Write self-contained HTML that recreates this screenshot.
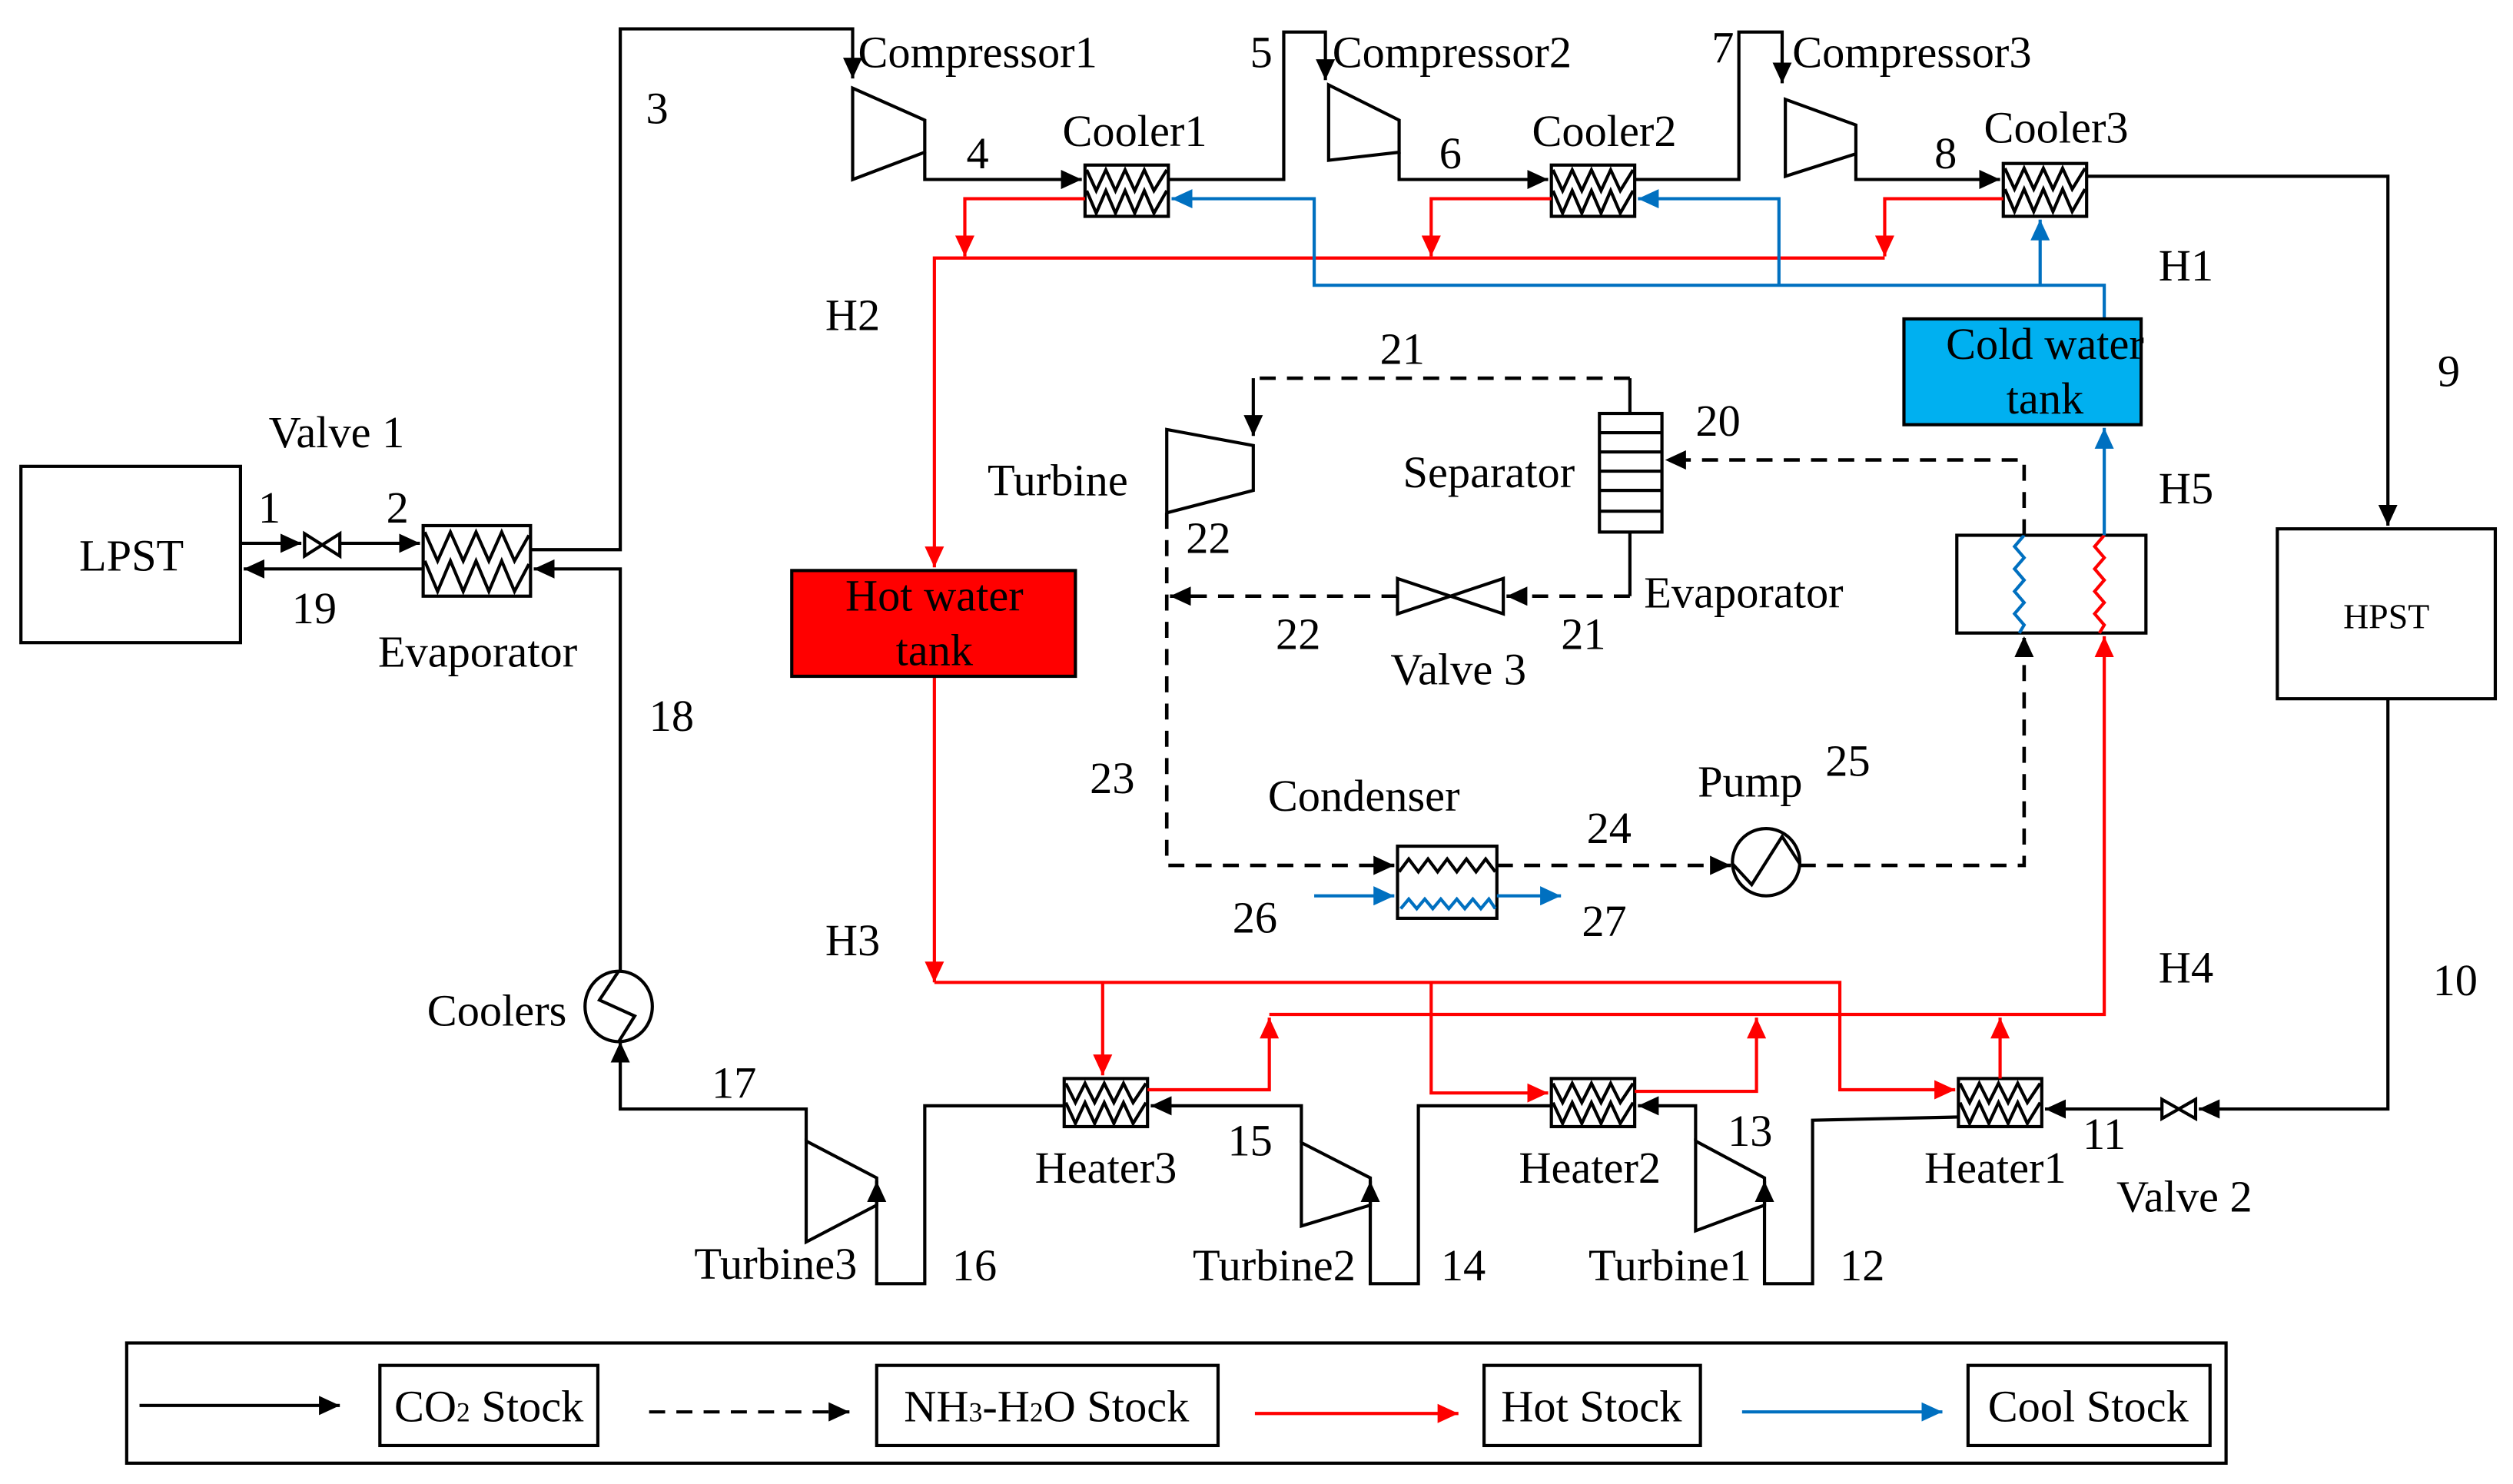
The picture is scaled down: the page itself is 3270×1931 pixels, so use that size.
<!DOCTYPE html>
<html><head><meta charset="utf-8"><style>
html,body{margin:0;padding:0;background:#fff;}
svg{display:block;}
text{font-family:"Liberation Serif",serif;font-size:28px;fill:#000;}
</style></head><body>
<svg width="3270" height="1931" viewBox="0 0 1568 926" xmlns="http://www.w3.org/2000/svg">
<defs>
<marker id="ak" markerUnits="userSpaceOnUse" markerWidth="14" markerHeight="12" refX="13" refY="6" orient="auto"><path d="M0,0 L13,6 L0,12 z" fill="#000"/></marker>
<marker id="ar" markerUnits="userSpaceOnUse" markerWidth="14" markerHeight="12" refX="13" refY="6" orient="auto"><path d="M0,0 L13,6 L0,12 z" fill="#f00"/></marker>
<marker id="ab" markerUnits="userSpaceOnUse" markerWidth="14" markerHeight="12" refX="13" refY="6" orient="auto"><path d="M0,0 L13,6 L0,12 z" fill="#0070c0"/></marker>
</defs>
<rect width="1568" height="926" fill="#fff"/>
<g fill="none" stroke-width="2">
<g stroke="#000">
<rect x="13" y="291" width="137" height="110"/>
<rect x="1421" y="330" width="136" height="106"/>
<path d="M150,339 H188" marker-end="url(#ak)"/>
<path d="M190,333 L212,347 L212,333 L190,347 Z"/>
<path d="M212,339 H262" marker-end="url(#ak)"/>
<path d="M264,355 H152" marker-end="url(#ak)"/>
<rect x="264" y="328" width="67" height="44"/>
<polyline points="265,332 273,350 281,332 289,350 297,332 305,350 313,332 321,350 330,334"/>
<polyline points="265,350 273,369 281,350 289,369 297,350 305,369 313,350 321,369 330,352"/>
<path d="M331,343 H387 V18 H532 V49" marker-end="url(#ak)"/>
<path d="M532,55 L577,75 L577,95 L532,112 Z"/>
<path d="M577,95 V112 H675" marker-end="url(#ak)"/>
<rect x="677" y="103" width="52" height="32"/>
<polyline points="678,106 684,119 690,106 696,119 702,106 708,119 714,106 720,119 728,106"/>
<polyline points="678,119 684,133 690,119 696,133 702,119 708,133 714,119 720,133 728,119"/>
<path d="M729,112 H801 V20 H827 V50" marker-end="url(#ak)"/>
<path d="M829,53 L873,75 L873,95 L829,100 Z"/>
<path d="M873,95 V112 H966" marker-end="url(#ak)"/>
<rect x="968" y="103" width="52" height="32"/>
<polyline points="969,106 975,119 981,106 987,119 993,106 999,119 1005,106 1011,119 1019,106"/>
<polyline points="969,119 975,133 981,119 987,133 993,119 999,133 1005,119 1011,133 1019,119"/>
<path d="M1020,112 H1085 V20 H1112 V52" marker-end="url(#ak)"/>
<path d="M1114,62 L1158,78 L1158,96 L1114,110 Z"/>
<path d="M1158,96 V112 H1248" marker-end="url(#ak)"/>
<rect x="1250" y="102" width="52" height="33"/>
<polyline points="1251,105 1257,118 1263,105 1269,118 1275,105 1281,118 1287,105 1293,118 1301,105"/>
<polyline points="1251,118 1257,132 1263,118 1269,132 1275,118 1281,132 1287,118 1293,132 1301,118"/>
<path d="M1302,110 H1490 V328" marker-end="url(#ak)"/>
<path d="M1490,436 V692 H1372" marker-end="url(#ak)"/>
<path d="M1349,686 L1370,698 L1370,686 L1349,698 Z"/>
<path d="M1349,692 H1276" marker-end="url(#ak)"/>
<rect x="1222" y="673" width="52" height="30"/>
<polyline points="1223,676 1229,688 1235,676 1241,688 1247,676 1253,688 1259,676 1265,688 1273,676"/>
<polyline points="1223,688 1229,701 1235,688 1241,701 1247,688 1253,701 1259,688 1265,701 1273,688"/>
<path d="M1222,697 L1131,699 V801 H1101 V737" marker-end="url(#ak)"/>
<path d="M1058,712 L1101,735 L1101,752 L1058,768 Z"/>
<path d="M1058,712 V690 H1022" marker-end="url(#ak)"/>
<rect x="968" y="673" width="52" height="30"/>
<polyline points="969,676 975,688 981,676 987,688 993,676 999,688 1005,676 1011,688 1019,676"/>
<polyline points="969,688 975,701 981,688 987,701 993,688 999,701 1005,688 1011,701 1019,688"/>
<path d="M968,690 H885 V801 H855 V737" marker-end="url(#ak)"/>
<path d="M812,713 L855,735 L855,752 L812,765 Z"/>
<path d="M812,713 V690 H718" marker-end="url(#ak)"/>
<rect x="664" y="673" width="52" height="30"/>
<polyline points="665,676 671,688 677,676 683,688 689,676 695,688 701,676 707,688 715,676"/>
<polyline points="665,688 671,701 677,688 683,701 689,688 695,701 701,688 707,701 715,688"/>
<path d="M664,690 H577 V801 H547 V737" marker-end="url(#ak)"/>
<path d="M503,712 L547,735 L547,752 L503,775 Z"/>
<path d="M503,712 V692 H387 V650" marker-end="url(#ak)"/>
<ellipse cx="386" cy="628" rx="21" ry="22"/>
<polyline points="386,606 374,624 396,634 386,650"/>
<path d="M387,606 V355 H333" marker-end="url(#ak)"/>
<rect x="998" y="258" width="39" height="74"/>
<path d="M998,270 H1037 M998,282 H1037 M998,294 H1037 M998,306 H1037 M998,319 H1037"/>
<path d="M1017,258 V236 M1017,332 V372"/>
<path d="M728,268 L782,278 L782,306 L728,320 Z"/>
<path d="M872,361 L938,383 L938,361 L872,383 Z"/>
<rect x="872" y="528" width="62" height="45"/>
<polyline points="873,544 879,536 885,544 891,536 897,544 903,536 909,544 915,536 921,544 927,536 933,544"/>
<circle cx="1102" cy="538" r="21"/>
<polyline points="1081,539 1093,552 1112,522 1123,539"/>
<rect x="1221" y="334" width="118" height="61"/>
</g>
<polyline stroke="#0070c0" points="874,567 879,561 884,567 889,561 894,567 899,561 904,567 909,561 914,567 919,561 924,567 929,561 933,567"/>
<polyline stroke="#0070c0" points="1263,334 1257,341 1263,348 1257,355 1263,362 1257,369 1263,376 1257,383 1263,390 1260,395"/>
<polyline stroke="#f00" points="1313,334 1307,341 1313,348 1307,355 1313,362 1307,369 1313,376 1307,383 1313,390 1310,395"/>
<g stroke="#000" stroke-dasharray="10,7" stroke-width="2.2">
<path d="M1017,236 H782"/>
<path d="M1263,334 V287 H1039" marker-end="url(#ak)"/>
<path d="M1017,372 H940" marker-end="url(#ak)"/>
<path d="M872,372 H730" marker-end="url(#ak)"/>
<path d="M728,320 V540 H870" marker-end="url(#ak)"/>
<path d="M934,540 H1080" marker-end="url(#ak)"/>
<path d="M1123,540 H1263 V397" marker-end="url(#ak)"/>
</g>
<path d="M782,236 V272" stroke="#000" marker-end="url(#ak)"/>
<g stroke="#f00">
<path d="M677,124 H602 V160" marker-end="url(#ar)"/>
<path d="M968,124 H893 V160" marker-end="url(#ar)"/>
<path d="M1250,124 H1176 V160" marker-end="url(#ar)"/>
<path d="M1176,161 H583 V354" marker-end="url(#ar)"/>
<path d="M583,422 V613" marker-end="url(#ar)"/>
<path d="M583,613 H1148 V680 H1220" marker-end="url(#ar)"/>
<path d="M688,613 V671" marker-end="url(#ar)"/>
<path d="M893,613 V682 H966" marker-end="url(#ar)"/>
<path d="M716,680 H792 V635" marker-end="url(#ar)"/>
<path d="M1020,681 H1096 V635" marker-end="url(#ar)"/>
<path d="M1248,673 V635" marker-end="url(#ar)"/>
<path d="M792,633 H1313 V397" marker-end="url(#ar)"/>
</g>
<g stroke="#0070c0">
<path d="M1313,199 V178 H820 V124 H731" marker-end="url(#ab)"/>
<path d="M1110,178 V124 H1022" marker-end="url(#ab)"/>
<path d="M1273,178 V137" marker-end="url(#ab)"/>
<path d="M1313,334 V267" marker-end="url(#ab)"/>
<path d="M820,559 H870" marker-end="url(#ab)"/>
<path d="M934,559 H974" marker-end="url(#ab)"/>
</g>
<rect x="494" y="356" width="177" height="66" fill="#ff0000" stroke="#000"/>
<rect x="1188" y="199" width="148" height="66" fill="#00b0f0" stroke="#000"/>
<g stroke="#000">
<rect x="79" y="838" width="1310" height="75"/>
<rect x="237" y="852" width="136" height="50"/>
<rect x="547" y="852" width="213" height="50"/>
<rect x="926" y="852" width="135" height="50"/>
<rect x="1228" y="852" width="151" height="50"/>
<path d="M87,877 H212" marker-end="url(#ak)"/>
<path d="M405,881 H530" stroke-dasharray="10,7" marker-end="url(#ak)"/>
</g>
<path d="M783,882 H910" stroke="#f00" marker-end="url(#ar)"/>
<path d="M1087,881 H1212" stroke="#0070c0" marker-end="url(#ab)"/>
</g>
<g text-anchor="middle">
<text x="82" y="356">LPST</text>
<text x="1489" y="392" style="font-size:22px">HPST</text>
<text x="210" y="279">Valve 1</text>
<text x="168" y="326">1</text>
<text x="248" y="326">2</text>
<text x="196" y="389">19</text>
<text x="298" y="416">Evaporator</text>
<text x="410" y="77">3</text>
<text x="610" y="42">Compressor1</text>
<text x="610" y="105">4</text>
<text x="708" y="91">Cooler1</text>
<text x="787" y="42">5</text>
<text x="906" y="42">Compressor2</text>
<text x="905" y="105">6</text>
<text x="1001" y="91">Cooler2</text>
<text x="1075" y="39">7</text>
<text x="1193" y="42">Compressor3</text>
<text x="1214" y="105">8</text>
<text x="1283" y="89">Cooler3</text>
<text x="1364" y="175">H1</text>
<text x="532" y="206">H2</text>
<text x="532" y="596">H3</text>
<text x="1364" y="613">H4</text>
<text x="1364" y="314">H5</text>
<text x="1528" y="241">9</text>
<text x="1532" y="621">10</text>
<text x="1313" y="717">11</text>
<text x="1363" y="756">Valve 2</text>
<text x="1245" y="738">Heater1</text>
<text x="1162" y="799">12</text>
<text x="1092" y="715">13</text>
<text x="1042" y="799">Turbine1</text>
<text x="992" y="738">Heater2</text>
<text x="913" y="799">14</text>
<text x="780" y="721">15</text>
<text x="795" y="799">Turbine2</text>
<text x="690" y="738">Heater3</text>
<text x="608" y="799">16</text>
<text x="484" y="798">Turbine3</text>
<text x="458" y="685">17</text>
<text x="310" y="640">Coolers</text>
<text x="419" y="456">18</text>
<text x="583" y="381">Hot water</text>
<text x="583" y="415">tank</text>
<text x="1276" y="224">Cold water</text>
<text x="1276" y="258">tank</text>
<text x="875" y="227">21</text>
<text x="1072" y="272">20</text>
<text x="929" y="304">Separator</text>
<text x="660" y="309">Turbine</text>
<text x="754" y="345">22</text>
<text x="1088" y="379">Evaporator</text>
<text x="988" y="405">21</text>
<text x="810" y="405">22</text>
<text x="910" y="427">Valve 3</text>
<text x="694" y="495">23</text>
<text x="851" y="506">Condenser</text>
<text x="1004" y="526">24</text>
<text x="1092" y="497">Pump</text>
<text x="1153" y="484">25</text>
<text x="783" y="582">26</text>
<text x="1001" y="584">27</text>
<text x="305" y="887">CO<tspan style="font-size:17px">2</tspan> Stock</text>
<text x="653" y="887">NH<tspan style="font-size:17px">3</tspan>-H<tspan style="font-size:17px">2</tspan>O Stock</text>
<text x="993" y="887">Hot Stock</text>
<text x="1303" y="887">Cool Stock</text>
</g>
</svg>
</body></html>
